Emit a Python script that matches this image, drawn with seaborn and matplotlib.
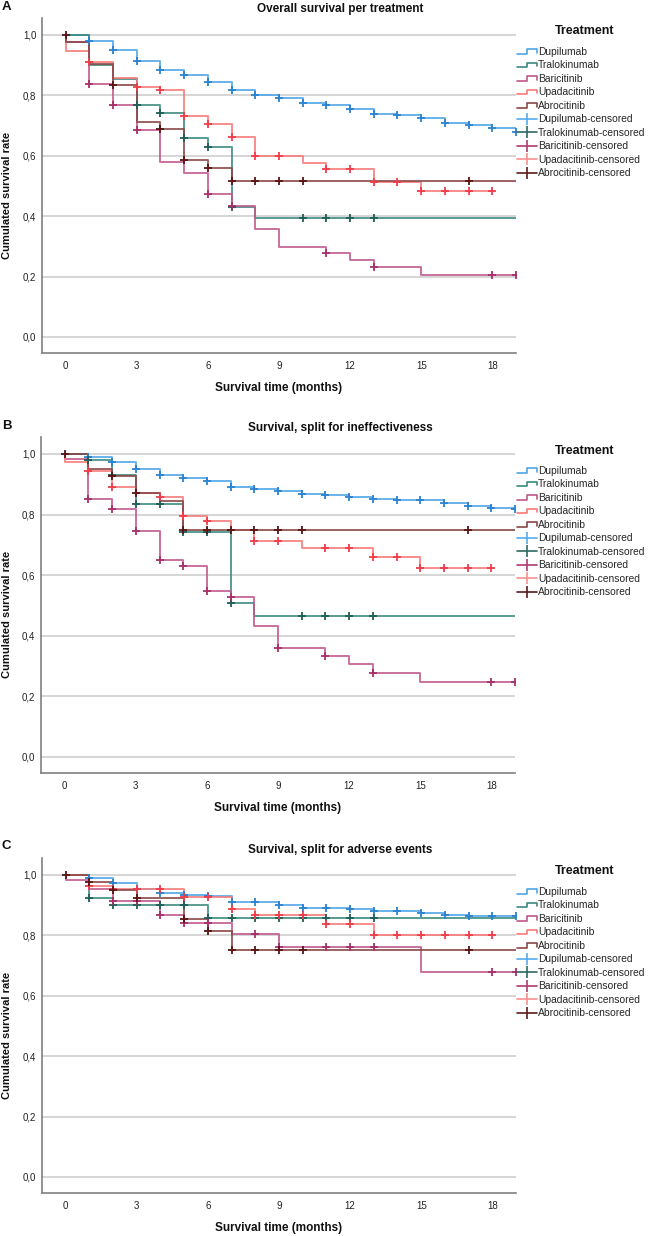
import numpy as np
import pandas as pd
import matplotlib
matplotlib.use("Agg")
import matplotlib.pyplot as plt
from matplotlib.lines import Line2D
from matplotlib.legend_handler import HandlerBase
import seaborn as sns

# ---------------- data ----------------
TREATMENTS = ["Dupilumab", "Tralokinumab", "Baricitinib", "Upadacitinib", "Abrocitinib"]
PANEL_LETTERS = ["A", "B", "C"]
PANEL_TITLES = ["Overall survival per treatment",
                "Survival, split for ineffectiveness",
                "Survival, split for adverse events"]
X_TICKS = [0, 3, 6, 9, 12, 15, 18]
Y_TICKS = [0.0, 0.2, 0.4, 0.6, 0.8, 1.0]
X_LABEL = "Survival time (months)"
Y_LABEL = "Cumulated survival rate"
LEGEND_TITLE = "Treatment"

# Panel A: overall survival
A_DUPI_T = [0, 1, 2, 3, 4, 5, 6, 7, 8, 9, 10, 11, 12, 13, 14, 15, 16, 17, 18, 19]
A_DUPI_S = [1.0, 0.979, 0.949, 0.914, 0.885, 0.868, 0.844, 0.817, 0.802, 0.79, 0.773, 0.768,
            0.755, 0.738, 0.734, 0.724, 0.71, 0.701, 0.692, 0.679]
A_DUPI_C = [1, 2, 3, 4, 5, 6, 7, 8, 9, 10, 11, 12, 13, 14, 15, 16, 17, 18, 19]
A_TRAL_T = [0, 1, 2, 3, 4, 5, 6, 7, 8]
A_TRAL_S = [1.0, 0.902, 0.855, 0.767, 0.74, 0.66, 0.63, 0.43, 0.395]
A_TRAL_C = [3, 4, 5, 6, 7, 10, 11, 12, 13]
A_BARI_T = [0, 0, 1, 2, 3, 4, 5, 6, 7, 8, 9, 11, 12, 13, 15]
A_BARI_S = [1.0, 0.978, 0.837, 0.769, 0.684, 0.579, 0.544, 0.475, 0.434, 0.358, 0.297, 0.277,
            0.254, 0.231, 0.204]
A_BARI_C = [1, 2, 3, 6, 7, 11, 13, 18, 19]
A_UPAD_T = [0, 0, 1, 2, 3, 4, 5, 6, 7, 8, 10, 11, 13, 15]
A_UPAD_S = [1.0, 0.947, 0.909, 0.859, 0.826, 0.816, 0.732, 0.704, 0.662, 0.598, 0.577, 0.557,
            0.513, 0.483]
A_UPAD_C = [1, 3, 4, 5, 6, 7, 8, 9, 11, 12, 13, 14, 15, 16, 17, 18]
A_ABRO_T = [0, 0, 1, 2, 3, 4, 5, 6, 7]
A_ABRO_S = [1.0, 0.978, 0.905, 0.835, 0.711, 0.688, 0.585, 0.558, 0.515]
A_ABRO_C = [0, 2, 4, 5, 6, 7, 8, 9, 10, 17]
A_END = [19, 19, 19, 18, 19]

# Panel B: ineffectiveness
B_DUPI_T = [0, 1, 2, 3, 4, 5, 6, 7, 8, 9, 10, 11, 12, 13, 14, 15, 16, 17, 18, 19]
B_DUPI_S = [1.0, 0.991, 0.974, 0.95, 0.932, 0.922, 0.91, 0.892, 0.884, 0.879, 0.868, 0.866,
            0.858, 0.853, 0.849, 0.847, 0.837, 0.828, 0.822, 0.82]
B_DUPI_C = [1, 2, 3, 4, 5, 6, 7, 8, 9, 10, 11, 12, 13, 14, 15, 16, 17, 18, 19]
B_TRAL_T = [0, 1, 2, 3, 5, 7, 8]
B_TRAL_S = [1.0, 0.98, 0.932, 0.834, 0.741, 0.508, 0.465]
B_TRAL_C = [1, 2, 3, 4, 5, 6, 7, 10, 11, 12, 13]
B_BARI_T = [0, 0, 1, 2, 3, 4, 5, 6, 7, 8, 9, 11, 12, 13, 15]
B_BARI_S = [1.0, 0.983, 0.851, 0.818, 0.745, 0.649, 0.631, 0.549, 0.528, 0.431, 0.36, 0.333,
            0.306, 0.278, 0.248]
B_BARI_C = [1, 2, 3, 4, 5, 6, 7, 9, 11, 13, 18, 19]
B_UPAD_T = [0, 0, 1, 2, 3, 4, 5, 6, 7, 8, 10, 13, 15]
B_UPAD_S = [1.0, 0.975, 0.945, 0.89, 0.871, 0.858, 0.794, 0.78, 0.748, 0.712, 0.69, 0.661, 0.624]
B_UPAD_C = [1, 2, 4, 5, 6, 8, 9, 11, 12, 13, 14, 15, 16, 17, 18]
B_ABRO_T = [0, 1, 2, 3, 4, 5]
B_ABRO_S = [1.0, 0.95, 0.926, 0.871, 0.844, 0.748]
B_ABRO_C = [0, 2, 3, 5, 6, 7, 8, 9, 10, 17]
B_END = [19, 19, 19, 18, 19]

# Panel C: adverse events
C_DUPI_T = [0, 1, 2, 3, 4, 5, 6, 7, 9, 10, 12, 13, 15, 16, 17]
C_DUPI_S = [1.0, 0.989, 0.972, 0.955, 0.941, 0.935, 0.931, 0.909, 0.90, 0.892, 0.888, 0.881,
            0.875, 0.868, 0.865]
C_DUPI_C = [1, 2, 3, 4, 5, 6, 7, 8, 9, 10, 11, 12, 13, 14, 15, 16, 17, 18, 19]
C_TRAL_T = [0, 1, 2, 6]
C_TRAL_S = [1.0, 0.922, 0.90, 0.858]
C_TRAL_C = [1, 2, 3, 4, 5, 6, 7, 8, 9, 10, 11, 12, 13]
C_BARI_T = [0, 0, 1, 2, 4, 5, 7, 9, 15]
C_BARI_S = [1.0, 0.982, 0.952, 0.913, 0.866, 0.841, 0.806, 0.762, 0.677]
C_BARI_C = [2, 3, 4, 5, 6, 8, 9, 11, 12, 13, 18, 19]
C_UPAD_T = [0, 1, 2, 5, 7, 8, 11, 13]
C_UPAD_S = [1.0, 0.964, 0.955, 0.927, 0.887, 0.866, 0.836, 0.802]
C_UPAD_C = [1, 2, 3, 4, 5, 6, 7, 8, 9, 10, 11, 12, 13, 14, 15, 16, 17, 18]
C_ABRO_T = [0, 1, 2, 3, 5, 6, 7]
C_ABRO_S = [1.0, 0.978, 0.951, 0.923, 0.854, 0.815, 0.752]
C_ABRO_C = [0, 1, 2, 3, 5, 6, 7, 8, 9, 10, 17]
C_END = [19, 19, 19, 18, 19]

PANELS = [
    ([A_DUPI_T, A_TRAL_T, A_BARI_T, A_UPAD_T, A_ABRO_T],
     [A_DUPI_S, A_TRAL_S, A_BARI_S, A_UPAD_S, A_ABRO_S],
     [A_DUPI_C, A_TRAL_C, A_BARI_C, A_UPAD_C, A_ABRO_C], A_END),
    ([B_DUPI_T, B_TRAL_T, B_BARI_T, B_UPAD_T, B_ABRO_T],
     [B_DUPI_S, B_TRAL_S, B_BARI_S, B_UPAD_S, B_ABRO_S],
     [B_DUPI_C, B_TRAL_C, B_BARI_C, B_UPAD_C, B_ABRO_C], B_END),
    ([C_DUPI_T, C_TRAL_T, C_BARI_T, C_UPAD_T, C_ABRO_T],
     [C_DUPI_S, C_TRAL_S, C_BARI_S, C_UPAD_S, C_ABRO_S],
     [C_DUPI_C, C_TRAL_C, C_BARI_C, C_UPAD_C, C_ABRO_C], C_END),
]

# ---------------- style ----------------
LINE_COLORS = ["#4fa5e6", "#3b8a80", "#c0588c", "#f77a7a", "#8a4646"]
CENS_COLORS = ["#2a82d0", "#1f5e57", "#a8306a", "#f23c48", "#5a1414"]
LEG_CENS_COLORS = ["#55abee", "#2d6a62", "#b03a72", "#f89090", "#5a1a1a"]

sns.set_theme(style="white")
plt.rcParams["font.family"] = ["Liberation Sans", "DejaVu Sans"]

FIG_W, FIG_H = 651, 1236
fig = plt.figure(figsize=(FIG_W / 100, FIG_H / 100), dpi=100)

# axes pixel boxes: left, right, top, bottom
AX_BOXES = [(42, 516, 18, 353), (41, 515, 437, 773), (42, 516, 858, 1193)]
TITLE_Y = [9, 428, 850]
LETTER_Y = [7, 426, 846]


class StepHandler(HandlerBase):
    def create_artists(self, legend, orig_handle, xdescent, ydescent, width, height,
                       fontsize, trans):
        x0, y0 = -xdescent, -ydescent
        xs = [x0, x0 + 0.5 * width, x0 + 0.5 * width, x0 + width, x0 + width]
        ys = [y0 + 0.15 * height, y0 + 0.15 * height, y0 + 0.8 * height,
              y0 + 0.8 * height, y0 + 0.3 * height]
        ln = Line2D(xs, ys, color=orig_handle.get_color(), lw=orig_handle.get_linewidth())
        ln.set_transform(trans)
        return [ln]


def fmt(v):
    return f"{v:.1f}".replace(".", ",")


for p, (times, survs, cens, ends) in enumerate(PANELS):
    l, r, t, b = AX_BOXES[p]
    ax = fig.add_axes([l / FIG_W, 1 - b / FIG_H, (r - l) / FIG_W, (b - t) / FIG_H])
    for i, name in enumerate(TREATMENTS):
        tt = list(times[i]) + [ends[i]]
        ss = list(survs[i]) + [survs[i][-1]]
        df = pd.DataFrame({"t": tt, "s": ss})
        sns.lineplot(data=df, x="t", y="s", drawstyle="steps-post", estimator=None,
                     sort=False, color=LINE_COLORS[i], lw=1.4, alpha=0.85, ax=ax,
                     legend=False, zorder=3)
        # censor marks on the step curve
        tarr = np.asarray(times[i], dtype=float)
        sarr = np.asarray(survs[i], dtype=float)
        cy = []
        for c in cens[i]:
            if c == tarr[0]:
                cy.append(sarr[0])
            else:
                cy.append(sarr[np.searchsorted(tarr, c, side="right") - 1])
        cdf = pd.DataFrame({"t": cens[i], "s": cy})
        sns.scatterplot(data=cdf, x="t", y="s", marker="+", s=40, color=CENS_COLORS[i],
                        linewidth=1.3, ax=ax, legend=False, zorder=4)

    ax.set_xlim(-1, 19)
    ax.set_ylim(-0.053, 1.056)
    ax.set_xticks(X_TICKS)
    ax.set_xticklabels([str(x) for x in X_TICKS], fontsize=7, color="#222222")
    ax.set_yticks(Y_TICKS)
    ax.set_yticklabels([fmt(y) for y in Y_TICKS], fontsize=7, color="#222222")
    ax.tick_params(axis="both", length=0, pad=4)
    ax.tick_params(axis="x", pad=6)
    ax.yaxis.grid(True, color="#d2d2d2", lw=1.3, zorder=0)
    ax.xaxis.grid(False)
    ax.set_axisbelow(True)
    for sp in ["top", "right"]:
        ax.spines[sp].set_visible(False)
    for sp in ["left", "bottom"]:
        ax.spines[sp].set_color("#808080")
        ax.spines[sp].set_linewidth(1.2)

    ax.set_xlabel(X_LABEL, fontsize=8.5, fontweight="bold", color="#111111")
    ax.xaxis.set_label_coords(0.5, -(388 - 353) / 335)
    ax.xaxis.label.set_va("center")
    ax.set_ylabel(Y_LABEL, fontsize=8, fontweight="bold", color="#111111")
    ax.yaxis.set_label_coords((7 - l) / (r - l), (b - (t + 177)) / (b - t))
    ax.yaxis.label.set_va("center")

    # legend
    handles, labels = [], []
    step_handles = []
    for i, name in enumerate(TREATMENTS):
        h = Line2D([], [], color=LINE_COLORS[i], lw=1.2)
        step_handles.append(h)
        handles.append(h)
        labels.append(name)
    for i, name in enumerate(TREATMENTS):
        h = Line2D([], [], color=LEG_CENS_COLORS[i], lw=1.2, marker="|", markersize=8,
                   markeredgewidth=1.2)
        handles.append(h)
        labels.append(name + "-censored")
    leg = ax.legend(handles, labels, loc="upper left",
                    bbox_to_anchor=((517 - l) / (r - l), (b - (t + 29)) / (b - t)),
                    frameon=False, fontsize=7.4, handlelength=1.9,
                    handletextpad=0.15, labelspacing=0.34, borderpad=0, borderaxespad=0,
                    handler_map={h: StepHandler() for h in step_handles})
    leg.set_clip_on(False)
    fig.text(585 / FIG_W, 1 - (t + 13.5) / FIG_H, LEGEND_TITLE, ha="center", va="center",
             fontsize=9, fontweight="bold", color="#111111")

    fig.text(340 / FIG_W, 1 - TITLE_Y[p] / FIG_H, PANEL_TITLES[p], ha="center", va="center",
             fontsize=8.5, fontweight="bold", color="#111111")
    fig.text(2 / FIG_W, 1 - LETTER_Y[p] / FIG_H, PANEL_LETTERS[p], ha="left", va="center",
             fontsize=9.5, fontweight="bold", color="#111111")

fig.savefig("out.png", dpi=100)
